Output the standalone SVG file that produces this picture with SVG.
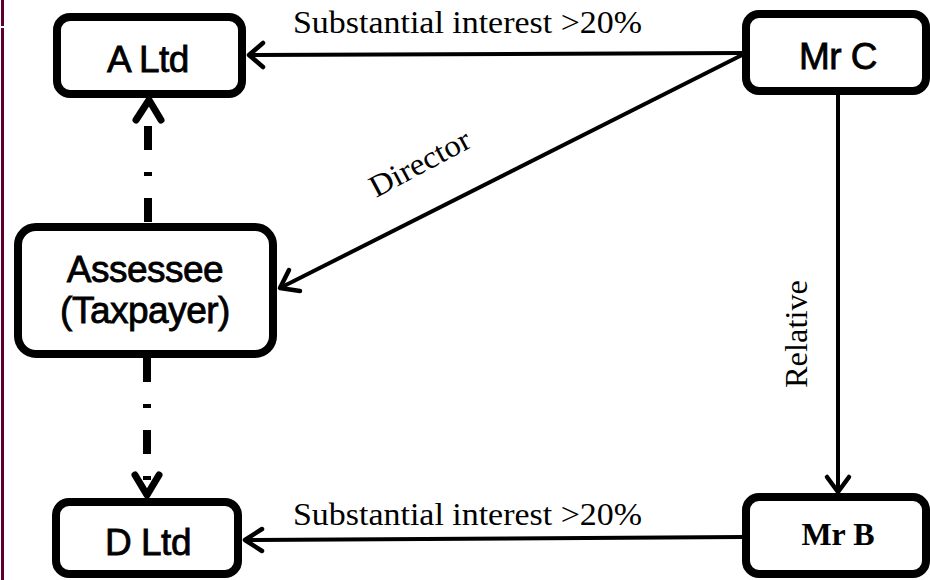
<svg xmlns="http://www.w3.org/2000/svg" width="930" height="580" viewBox="0 0 930 580">
  <style>
    .box { fill: #ffffff; stroke: #000000; stroke-width: 8; }
    .sans { font-family: "Liberation Sans", Arial, sans-serif; font-size: 37px; fill: #000000; stroke: #000000; stroke-width: 0.8; letter-spacing: -0.5px; text-anchor: middle; }
    .serif { font-family: "Liberation Serif", "Times New Roman", serif; font-size: 31px; fill: #000000; }
    .bold { font-weight: bold; font-size: 32px; text-anchor: middle; }
    .line { fill: none; stroke: #000000; stroke-width: 4; }
    .head { fill: none; stroke: #000000; stroke-width: 4.5; stroke-linecap: round; stroke-linejoin: round; }
    .dashdot { fill: none; stroke: #000000; stroke-width: 8; stroke-dasharray: 24 22 4 22; }
    .dhead { fill: none; stroke: #000000; stroke-width: 7; stroke-linecap: round; stroke-linejoin: round; }
  </style>

  <rect x="0" y="0" width="930" height="580" fill="#ffffff"/>
  <!-- left page rule -->
  <line x1="2.5" y1="0" x2="2.5" y2="26" stroke="#5c0030" stroke-width="3"/>
  <line x1="2.5" y1="28" x2="2.5" y2="580" stroke="#5c0030" stroke-width="3"/>

  <g id="connectors">
    <!-- Mr C to A Ltd -->
    <line class="line" x1="742" y1="53" x2="249" y2="55"/>
    <polyline class="head" points="263,43 249,55 263,67"/>
    <!-- Mr C to Assessee (Director) -->
    <line class="line" x1="742" y1="55" x2="280" y2="288"/>
    <polyline class="head" points="289,270 280,288 300,291"/>
    <!-- Mr C to Mr B (Relative) -->
    <line class="line" x1="838" y1="95" x2="838" y2="491"/>
    <polyline class="head" points="827,477 838,492 849,477"/>
    <!-- Mr B to D Ltd -->
    <line class="line" x1="742" y1="537" x2="245" y2="540"/>
    <polyline class="head" points="262,529 245,540 262,551"/>
    <!-- Assessee to A Ltd -->
    <path class="dashdot" d="M148 222 L148 102"/>
    <polyline class="dhead" points="136,120 149,100 161,120"/>
    <!-- Assessee to D Ltd -->
    <path class="dashdot" d="M147 358 L147 496"/>
    <polyline class="dhead" points="135,475 147,495 159,475"/>

    <text class="serif" x="293" y="33" textLength="349" lengthAdjust="spacingAndGlyphs">Substantial interest &gt;20%</text>
    <text class="serif" x="293" y="525" textLength="349" lengthAdjust="spacingAndGlyphs">Substantial interest &gt;20%</text>
    <text class="serif" transform="translate(376,198) rotate(-28)" x="0" y="0" textLength="110" lengthAdjust="spacingAndGlyphs">Director</text>
    <text class="serif" transform="translate(807,334) rotate(-90)" x="0" y="0" text-anchor="middle" textLength="108" lengthAdjust="spacingAndGlyphs">Relative</text>
  </g>

  <g id="a-ltd">
    <rect class="box" x="57" y="17" width="185" height="77" rx="13"/>
    <text class="sans" x="148" y="72">A Ltd</text>
  </g>

  <g id="mr-c">
    <rect class="box" x="746" y="14" width="180" height="77" rx="13"/>
    <text class="sans" x="838" y="69">Mr C</text>
  </g>

  <g id="assessee">
    <rect class="box" x="18" y="227" width="255" height="127" rx="18"/>
    <text class="sans" x="145" y="282">Assessee</text>
    <text class="sans" x="145" y="323">(Taxpayer)</text>
  </g>

  <g id="d-ltd">
    <rect class="box" x="56" y="502" width="182" height="72" rx="13"/>
    <text class="sans" x="148" y="555">D Ltd</text>
  </g>

  <g id="mr-b">
    <rect class="box" x="746" y="497" width="180" height="77" rx="13"/>
    <text class="serif bold" x="838" y="545">Mr B</text>
  </g>
</svg>
